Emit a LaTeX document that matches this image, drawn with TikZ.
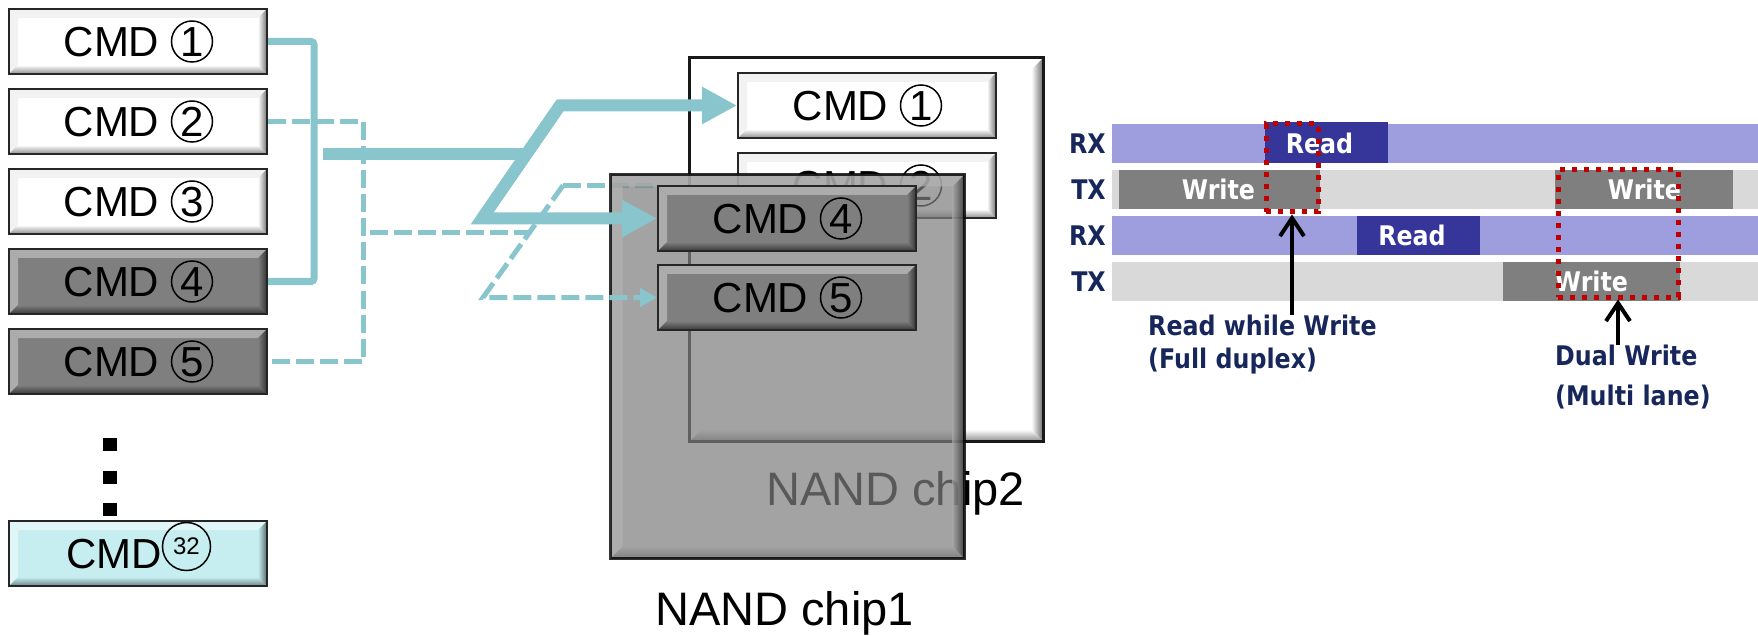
\documentclass[tikz,border=0pt]{standalone}
\usepackage{fontspec}
\setmainfont{Liberation Sans}
\newfontfamily\dvs{DejaVu Sans}[FakeStretch=0.88]
\usetikzlibrary{arrows.meta,calc}
\definecolor{cyanline}{HTML}{89C5CC}
\definecolor{rxl}{HTML}{9E9EDE}
\definecolor{rxd}{HTML}{35359A}
\definecolor{txl}{HTML}{D9D9D9}
\definecolor{txd}{HTML}{7F7F7F}
\definecolor{navy}{HTML}{17275C}
\definecolor{dred}{HTML}{C00000}
\definecolor{boxgray}{HTML}{7F7F7F}
\definecolor{boxcyan}{HTML}{C6EEF0}
\definecolor{chipg}{HTML}{7E7E7E}
\newcommand\cmdfont{\fontsize{42}{48}\selectfont}
\newcommand\nandfont{\fontsize{47}{52}\selectfont}
\tikzset{
 bev/.style n args={6}{fill=#1, path picture={
   \fill[#2] (path picture bounding box.north west) -- (path picture bounding box.north east) -- ([shift={(-#6pt,-#6pt)}]path picture bounding box.north east) -- ([shift={(#6pt,-#6pt)}]path picture bounding box.north west) -- cycle;
   \fill[#2] (path picture bounding box.north west) -- (path picture bounding box.south west) -- ([shift={(#6pt,#6pt)}]path picture bounding box.south west) -- ([shift={(#6pt,-#6pt)}]path picture bounding box.north west) -- cycle;
   \shade[top color=#3, bottom color=#4] (path picture bounding box.south west) -- (path picture bounding box.south east) -- ([shift={(-#6pt,#6pt)}]path picture bounding box.south east) -- ([shift={(#6pt,#6pt)}]path picture bounding box.south west) -- cycle;
   \shade[left color=#3, right color=#5] (path picture bounding box.north east) -- (path picture bounding box.south east) -- ([shift={(-#6pt,#6pt)}]path picture bounding box.south east) -- ([shift={(-#6pt,-#6pt)}]path picture bounding box.north east) -- cycle;
 }},
 cmdbox/.style={minimum width=258pt, minimum height=65pt, inner sep=0pt, draw=black!85, line width=2pt, text height=30pt, text depth=0pt, font=\cmdfont},
 whitebox/.style={cmdbox, bev={white}{white!95!black}{white}{black!45}{black!55}{9}},
 graybox/.style={cmdbox, bev={boxgray}{boxgray!65!white}{boxgray}{boxgray!45!black}{boxgray!40!black}{9}},
 cyanbox/.style={cmdbox, bev={boxcyan}{boxcyan!55!white}{boxcyan}{boxcyan!55!black}{boxcyan!45!black}{9}},
 cnum/.style={circle, draw=black, line width=1.5pt, minimum size=41pt, inner sep=0pt, font=\cmdfont, text height=30pt, text depth=0pt},
 chipwhite/.style={draw=black!90, line width=2.5pt, minimum width=354pt, minimum height=384pt, inner sep=0pt, bev={white}{white}{white}{black!45}{black!60}{12}},
 chipgray/.style={draw=black, draw opacity=0.8, fill opacity=0.71, line width=2.5pt, minimum width=354pt, minimum height=384pt, inner sep=0pt, bev={chipg}{black!30}{black!36}{black!55}{black!88}{12}},
 thinc/.style={draw=cyanline, line width=7pt, rounded corners=3pt},
 thickl/.style={draw=cyanline, line width=12pt, line join=miter},
 thickc/.style={thickl, -{Triangle[length=35pt,width=35pt]}},
 dashc/.style={draw=cyanline, line width=5pt, dash pattern=on 18pt off 6pt},
 dashar/.style={dashc, -{Triangle[length=17pt,width=18pt]}},
 ptxt/.style={font=\dvs\bfseries\fontsize{27}{30}\selectfont, inner sep=0pt},
 bartxt/.style={ptxt, text=white, text height=19.7pt, text depth=0pt},
 redbox/.style={draw=dred, line width=5pt, dash pattern=on 5pt off 7pt, inner sep=0pt},
 blackarrow/.style={draw=black, line width=4pt, -{Straight Barb[length=18pt,width=24pt]}},
}
\begin{document}
\begin{tikzpicture}[x=1pt,y=-1pt]
\useasboundingbox (0,0) rectangle (1758,636);
% left column
\node[whitebox] (L1) at (138,41.5) {CMD\kern53pt};
\node[whitebox] (L2) at (138,121.5) {CMD\kern53pt};
\node[whitebox] (L3) at (138,201.5) {CMD\kern53pt};
\node[graybox] (L4) at (138,281.5) {CMD\kern53pt};
\node[graybox] (L5) at (138,361.5) {CMD\kern53pt};
\node[cnum] (L1n) at ($(L1.center)+(54,0)$) {1};
\node[cnum] (L2n) at ($(L2.center)+(54,0)$) {2};
\node[cnum] (L3n) at ($(L3.center)+(54,0)$) {3};
\node[cnum] (L4n) at ($(L4.center)+(54,0)$) {4};
\node[cnum] (L5n) at ($(L5.center)+(54,0)$) {5};
\fill (103,438) rectangle (117,451);
\fill (103,471) rectangle (117,484);
\fill (103,503) rectangle (117,516);
\node[cyanbox] (L32) at (138,553.5) {CMD\kern48pt};
\node[circle, draw, line width=1.5pt, minimum size=48pt, inner sep=0pt, font=\fontsize{24}{24}\selectfont] (n32) at (186.5,546.5) {32};
% chip 2
\node[chipwhite] (chip2) at (866.5,249.5) {};
\node[whitebox] (A1) at (867,105.5) {CMD\kern53pt};
\node[whitebox] (A2) at (867,185.5) {CMD\kern53pt};
\node[cnum] (A1n) at ($(A1.center)+(54,0)$) {1};
\node[cnum] (A2n) at ($(A2.center)+(54,0)$) {2};
\node[anchor=base west, inner sep=0pt, font=\nandfont] (lab2) at (766,505) {NAND chip2};
% connectors
\draw[thinc] (L1.east) -- ++(46,0) |- (L4.east);
\draw[dashc] (L2.east) -- ++(95,0) |- (L5.east);
\coordinate (t0) at (323,154);
\coordinate (t1) at (530,154);
\coordinate (dt) at (560,105.5);
\coordinate (db) at (482,218.5);
\draw[thickl] (t0) -- (t1);
\draw[thickc] (db) -- (dt) -- (A1.west);
\coordinate (d0) at (370,233);
\coordinate (d1) at (528,233);
\coordinate (ddt) at (563,185.5);
\coordinate (ddb) at (483,297.5);
\draw[dashc] (d0) -- (d1);
\draw[dashc] (ddt) -- (ddt -| 657,0);
% chip 1
\node[chipgray] (chip1) at (787.5,366.5) {};
\node[graybox] (B4) at (787,218.5) {CMD\kern53pt};
\node[graybox] (B5) at (787,297.5) {CMD\kern53pt};
\node[cnum] (B4n) at ($(B4.center)+(54,0)$) {4};
\node[cnum] (B5n) at ($(B5.center)+(54,0)$) {5};
\draw[thickc] (dt) -- (db) -- (B4.west);
\draw[dashar] (ddt) -- (ddb) -- (B5.west);
\node[anchor=base west, inner sep=0pt, font=\nandfont] (lab1) at (655,625) {NAND chip1};
% right panel
\fill[rxl] (1112,124) rectangle (1758,163);
\fill[rxd] (1265,122) rectangle (1388,163);
\fill[txl] (1112,170) rectangle (1758,209);
\fill[txd] (1119,170) rectangle (1320,209);
\fill[txd] (1555,170) rectangle (1733,209);
\fill[rxl] (1112,216) rectangle (1758,255);
\fill[rxd] (1357,216) rectangle (1480,255);
\fill[txl] (1112,262) rectangle (1758,301);
\fill[txd] (1503,262) rectangle (1680,301);
\node[ptxt, text=navy, anchor=east] (rx1) at (1106,143.5) {RX};
\node[ptxt, text=navy, anchor=east] (tx1) at (1106,189.5) {TX};
\node[ptxt, text=navy, anchor=east] (rx2) at (1106,235.5) {RX};
\node[ptxt, text=navy, anchor=east] (tx2) at (1106,281.5) {TX};
\node[bartxt] (r1) at (1319.5,143.5) {Read};
\node[bartxt] (w1) at (1218.5,189.5) {Write};
\node[bartxt] (w2) at (1644.5,189.5) {Write};
\node[bartxt] (r2) at (1412,235.5) {Read};
\node[bartxt] (w3) at (1591.5,281.5) {Write};
\node[redbox, minimum width=52pt, minimum height=88pt] (rb1) at (1292,168) {};
\node[redbox, minimum width=120pt, minimum height=127pt] (rb2) at (1618,233.5) {};
\node[ptxt, text=navy, anchor=north west, align=left, font=\dvs\bfseries\fontsize{27}{33}\selectfont] (lbl1) at (1148,315) {Read while Write\\(Full duplex)};
\node[ptxt, text=navy, anchor=north west, align=left, font=\dvs\bfseries\fontsize{27}{40}\selectfont] (lbl2) at (1555,345) {Dual Write\\(Multi lane)};
\draw[blackarrow] (rb1.south |- lbl1.north) -- (rb1.south);
\draw[blackarrow] (rb2.south |- lbl2.north) -- (rb2.south);
\end{tikzpicture}
\end{document}
